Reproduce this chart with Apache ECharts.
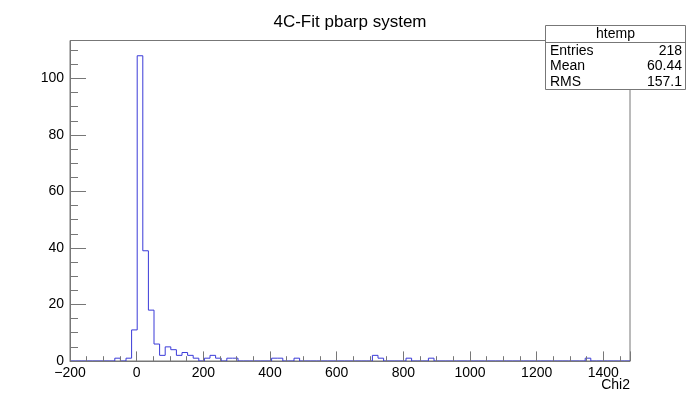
<!DOCTYPE html>
<html>
<head>
<meta charset="utf-8">
<script src="https://cdn.jsdelivr.net/npm/echarts@6/dist/echarts.min.js"></script>
<style>
  html, body { margin: 0; padding: 0; background: #fff; }
  #main { width: 700px; height: 402px; }
</style>
</head>
<body>
<div id="main"></div>
<script>
// histogram binning (-200 .. 1480, 100 bins)
const xMin = -200;
const xMax = 1480;
const nBins = 100;

// non-empty bins: bin index and content
const binIndex = [8, 10, 11, 12, 13, 14, 15, 16, 17, 18, 19, 20, 21, 22, 24, 25, 26, 28, 29, 36, 37, 40, 54, 55, 60, 64, 92];
const binCount = [1, 1, 11, 108, 39, 18, 6, 2, 5, 4, 2, 3, 2, 1, 1, 2, 1, 1, 1, 1, 1, 1, 2, 1, 1, 1, 1];

// stats box
const statNames = ['Entries', 'Mean', 'RMS'];
const statValues = ['218', '60.44', '157.1'];

const yMax = 108 * 1.05;
const binWidth = (xMax - xMin) / nBins;

// full bin contents
let counts = [];
for (let i = 0; i < nBins; i++) counts.push(0);
binIndex.forEach((b, i) => { counts[b] = binCount[i]; });

// step outline points at the bin low edges
let stepData = counts.map((c, k) => [xMin + k * binWidth, c]);
stepData.push([xMax, 0]);

const font = '"Liberation Sans", Arial, Helvetica, sans-serif';
const axisColor = '#777';

// plain numbers, real minus sign
function fmt(v) {
  return v < 0 ? '\u2212' + String(-v) : String(v);
}

let chart = echarts.init(document.getElementById('main'), null, { renderer: 'canvas' });

// stats box texts
let statTexts = [];
statNames.forEach((name, i) => {
  statTexts.push({
    type: 'text', z: 101,
    style: { x: 550, y: 51 + i * 15.5, text: name, fill: '#000', font: '14px ' + font, textAlign: 'left', textVerticalAlign: 'middle' }
  });
  statTexts.push({
    type: 'text', z: 101,
    style: { x: 682, y: 51 + i * 15.5, text: statValues[i], fill: '#000', font: '14px ' + font, textAlign: 'right', textVerticalAlign: 'middle' }
  });
});

chart.setOption({
  backgroundColor: '#fff',
  animation: false,
  title: {
    text: '4C-Fit pbarp system',
    left: 'center',
    top: 9,
    textStyle: { fontFamily: font, fontSize: 17, fontWeight: 'normal', color: '#000' }
  },
  grid: {
    left: 70, right: 70, top: 40.5, bottom: 41,
    show: true,
    borderColor: axisColor,
    borderWidth: 1,
    backgroundColor: 'transparent'
  },
  xAxis: {
    type: 'value',
    min: xMin,
    max: xMax,
    interval: 200,
    z: 5,
    axisLine: { show: true, onZero: false, lineStyle: { color: axisColor, width: 1 } },
    axisTick: { show: true, inside: true, length: 9.6, lineStyle: { color: axisColor } },
    minorTick: { show: true, splitNumber: 4, length: 4.8, lineStyle: { color: axisColor } },
    axisLabel: { color: '#000', fontFamily: font, fontSize: 14, margin: 5, showMaxLabel: false, formatter: fmt },
    splitLine: { show: false }
  },
  yAxis: {
    type: 'value',
    min: 0,
    max: yMax,
    interval: 20,
    z: 5,
    axisLine: { show: true, onZero: false, lineStyle: { color: axisColor, width: 1 } },
    axisTick: { show: true, inside: true, length: 16, lineStyle: { color: axisColor } },
    minorTick: { show: true, splitNumber: 4, length: 8, lineStyle: { color: axisColor } },
    axisLabel: { color: '#000', fontFamily: font, fontSize: 14, margin: 6, showMaxLabel: false, formatter: fmt },
    splitLine: { show: false }
  },
  series: [{
    type: 'line',
    step: 'end',
    data: stepData,
    symbol: 'none',
    z: 2,
    lineStyle: { color: '#3a3ad8', width: 1 }
  }],
  graphic: [
    {
      type: 'rect', z: 100,
      shape: { x: 545.5, y: 25.5, width: 140, height: 64 },
      style: { fill: '#fff', stroke: axisColor, lineWidth: 1 }
    },
    {
      type: 'line', z: 101,
      shape: { x1: 545.5, y1: 42.5, x2: 685.5, y2: 42.5 },
      style: { stroke: axisColor, lineWidth: 1 }
    },
    {
      type: 'text', z: 101,
      style: { x: 615.5, y: 34, text: 'htemp', fill: '#000', font: '14px ' + font, textAlign: 'center', textVerticalAlign: 'middle' }
    },
    ...statTexts,
    {
      type: 'text', z: 101,
      style: { x: 630, y: 385, text: 'Chi2', fill: '#000', font: '14px ' + font, textAlign: 'right', textVerticalAlign: 'middle' }
    }
  ]
});
</script>
</body>
</html>
